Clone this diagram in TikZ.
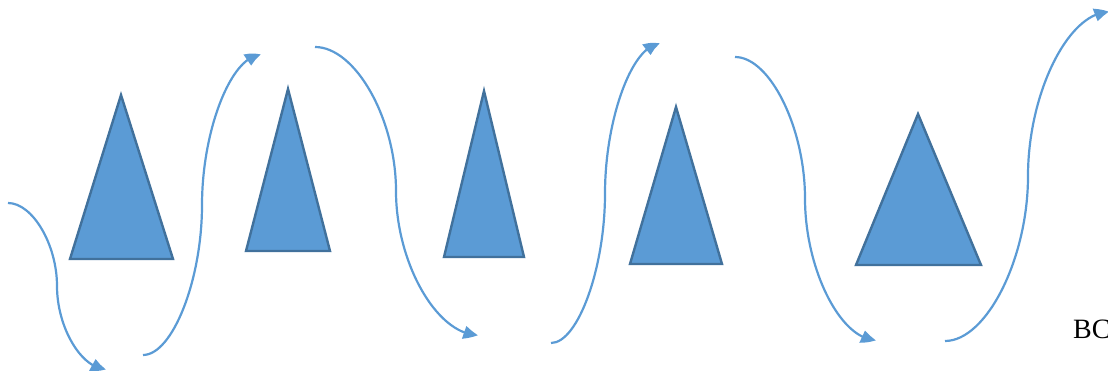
\documentclass[tikz,border=0pt]{standalone}
\usepackage{fontspec}
\setmainfont{Liberation Serif}
\usetikzlibrary{arrows.meta,bending}
\definecolor{triFill}{HTML}{5B9BD5}
\definecolor{triEdge}{HTML}{41719C}
\definecolor{arrowBlue}{HTML}{5B9BD5}
\tikzset{
  tri/.style={fill=triFill, draw=triEdge, line width=2.4pt, line join=miter},
  curvy/.style={draw=arrowBlue, line width=2.2pt, -{Triangle[length=14pt,width=13pt,bend]}},
}
\begin{document}
\begin{tikzpicture}[x=1pt,y=-1pt]
\useasboundingbox (0,0) rectangle (1108,371);
% triangles
\path[tri] (121,95) -- (173,259) -- (70,259) -- cycle;
\path[tri] (288,89) -- (330,251) -- (246,251) -- cycle;
\path[tri] (484,91) -- (524,257) -- (444,257) -- cycle;
\path[tri] (676,107) -- (722,264) -- (630,264) -- cycle;
\path[tri] (918,114) -- (981,265) -- (856,265) -- cycle;
% connector end points
\coordinate (s1) at (8,203);   \coordinate (e1) at (106,369);
\coordinate (s2) at (143,355); \coordinate (e2) at (261,55);
\coordinate (s3) at (315,47);  \coordinate (e3) at (478,335);
\coordinate (s4) at (551,343); \coordinate (e4) at (660,44);
\coordinate (s5) at (735,57);  \coordinate (e5) at (876,340);
\coordinate (s6) at (945,341); \coordinate (e6) at (1109,12);
% curved arrows
\draw[curvy] (s1) .. controls (32.5,203) and (57,244.5) .. (57,286)
  .. controls (57,327.5) and (81.5,369) .. (e1);
\draw[curvy] (s2) .. controls (172.5,355) and (202,280) .. (202,205)
  .. controls (202,130) and (231.5,55) .. (e2);
\draw[curvy] (s3) .. controls (355.5,47) and (396,119) .. (396,191)
  .. controls (396,263) and (437,335) .. (e3);
\draw[curvy] (s4) .. controls (578,343) and (605,268) .. (605,193.5)
  .. controls (605,119) and (632.5,44) .. (e4);
\draw[curvy] (s5) .. controls (770,57) and (805,128) .. (805,198.5)
  .. controls (805,269) and (840.5,340) .. (e5);
\draw[curvy] (s6) .. controls (986.5,341) and (1028,258.5) .. (1028,176)
  .. controls (1028,94) and (1068,12) .. (e6);
% label
\node[anchor=base west, inner sep=0pt, font=\fontsize{28}{32}\selectfont] (bc) at (1073,338) {BC};
\end{tikzpicture}
\end{document}
